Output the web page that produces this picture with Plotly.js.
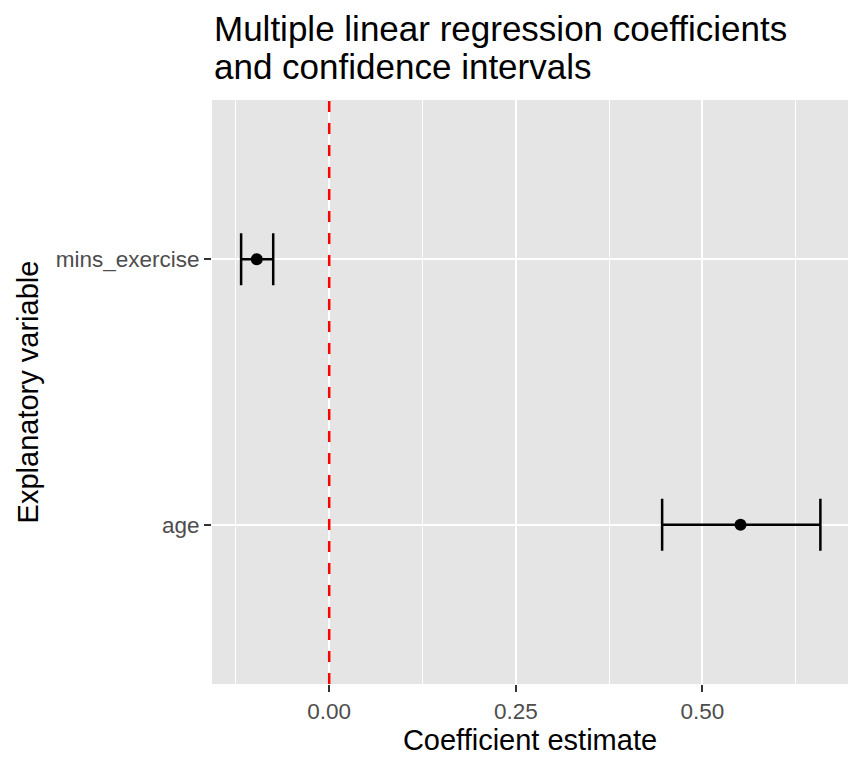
<!DOCTYPE html>
<html>
<head>
<meta charset="utf-8">
<script src="https://cdn.plot.ly/plotly-3.0.1.min.js"></script>
<style>html,body{margin:0;padding:0;background:#fff;}#chart{width:864px;height:768px;}</style>
</head>
<body>
<div id="chart"></div>
<script>
const variables = ['age', 'mins_exercise'];
const estimates = [0.551, -0.097];
const lowerCI = [0.446, -0.118];
const upperCI = [0.658, -0.075];
const xTickVals = [0, 0.25, 0.5];
const xTickText = ['0.00', '0.25', '0.50'];
const titleLines = ['Multiple linear regression coefficients', 'and confidence intervals'];

const trace = {
  type: 'scatter',
  mode: 'markers',
  x: estimates,
  y: variables,
  marker: {color: 'black', size: 12},
  error_x: {
    type: 'data',
    symmetric: false,
    array: upperCI.map((u, i) => u - estimates[i]),
    arrayminus: estimates.map((e, i) => e - lowerCI[i]),
    color: 'black',
    thickness: 2.5,
    width: 26
  },
  hoverinfo: 'x+y',
  showlegend: false
};

const plotH = 768 - 100 - 84;
const layout = {
  width: 864,
  height: 768,
  margin: {l: 212, r: 16, t: 100, b: 84},
  paper_bgcolor: 'white',
  plot_bgcolor: '#e5e5e5',
  font: {family: 'Liberation Sans, Arial, sans-serif', color: 'black'},
  annotations: titleLines.map((t, i) => ({
    text: t, showarrow: false,
    xref: 'paper', x: 0, xanchor: 'left',
    yref: 'paper', y: 1 + (100 - [29, 66][i]) / plotH, yanchor: 'middle',
    font: {size: 35, color: 'black'}
  })),
  xaxis: {
    range: [-0.157, 0.695],
    tickvals: xTickVals,
    ticktext: xTickText,
    ticks: 'outside', ticklen: 7, tickwidth: 2, tickcolor: '#333333',
    tickfont: {size: 22.5, color: '#4d4d4d'},
    showgrid: true, gridcolor: 'white', gridwidth: 2,
    minor: {tickvals: [-0.125, 0.125, 0.375, 0.625], showgrid: true, gridcolor: 'white', gridwidth: 1, ticks: ''},
    zeroline: false, showline: false,
    title: {text: 'Coefficient estimate', font: {size: 29, color: 'black'}, standoff: 6}
  },
  yaxis: {
    type: 'category',
    categoryorder: 'array',
    categoryarray: variables,
    range: [-0.6, 1.6],
    ticks: 'outside', ticklen: 7, tickwidth: 2, tickcolor: '#333333',
    tickfont: {size: 22.5, color: '#4d4d4d'},
    showgrid: true, gridcolor: 'white', gridwidth: 2,
    zeroline: false, showline: false,
    title: {text: 'Explanatory variable', font: {size: 29, color: 'black'}, standoff: 8}
  },
  shapes: [{
    type: 'line', xref: 'x', yref: 'paper',
    x0: 0, x1: 0, y0: 0, y1: 1,
    line: {color: 'red', width: 2.5, dash: '11px,11px'},
    layer: 'above'
  }]
};

Plotly.newPlot('chart', [trace], layout, {displayModeBar: false});
</script>
</body>
</html>
